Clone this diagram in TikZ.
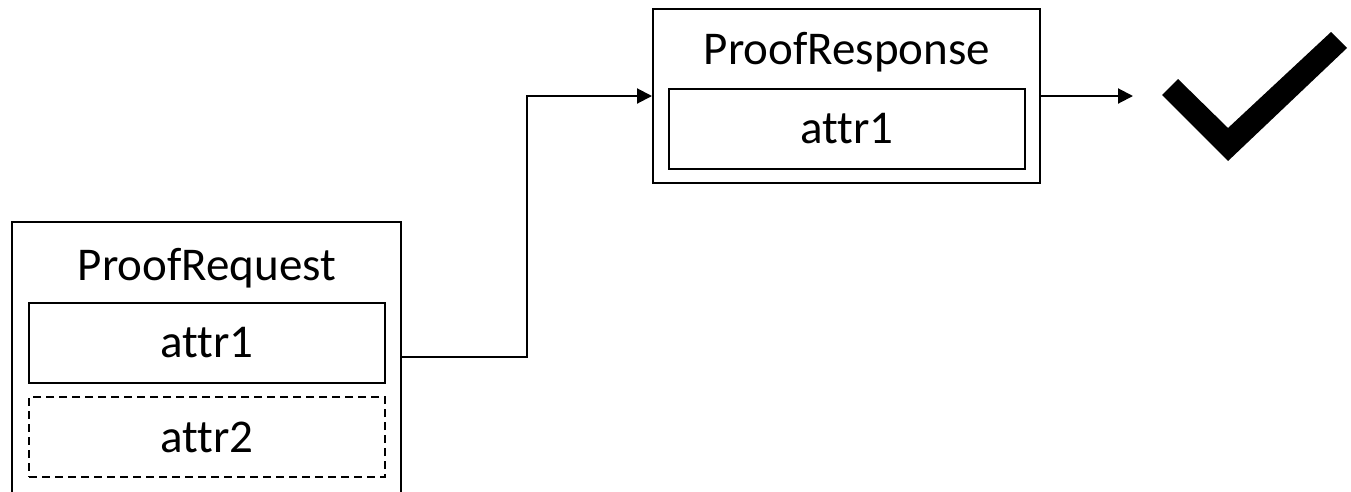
\documentclass[tikz,border=0pt]{standalone}
\usepackage{fontspec}
\setmainfont{Carlito}[RawFeature={-liga;-clig;-calt;-dlig}]
\usetikzlibrary{arrows.meta}

\tikzset{
    frame/.style={line width=2pt, inner sep=0pt, minimum width=387pt},
    attrbox/.style={draw, line width=1.5pt, inner sep=0pt, minimum width=356pt, minimum height=80pt, font=\fontsize{47}{52}\selectfont},
    optional/.style={attrbox, dash pattern=on 8pt off 5pt},
    title/.style={inner sep=0pt, font=\fontsize{47}{52}\selectfont},
    wire/.style={line width=2pt, -{Triangle[length=15pt,width=15pt]}}
}

\begin{document}
\begin{tikzpicture}[x=1pt, y=-1pt]
    \useasboundingbox (0,0) rectangle (1351,491);

    % Request frame, open at the bottom
    \node[frame, minimum height=268pt] (req) at (206.5,357) {};
    \draw[line width=2pt] (req.south west) |- (req.north east) -- (req.south east);
    \node[title] (reqtitle) at (207,268) {ProofRequest};
    \node[attrbox] (reqattr1) at (207,343) {attr1};
    \node[optional] (reqattr2) at (207,437) {attr2};

    % Response frame
    \node[frame, draw, minimum height=174pt] (resp) at (846.5,96) {};
    \node[title] (resptitle) at (847,52) {ProofResponse};
    \node[attrbox] (respattr1) at (847,129) {attr1};

    % Connectors
    \coordinate (bend) at (527,357);
    \draw[wire] (req.east) -- (bend) |- (resp.west);
    \coordinate (ok) at (1133,96);
    \draw[wire] (resp.east) -- (ok);

    % Check mark
    \fill (1178,79) -- (1228,128) -- (1331,32) -- (1347,48) -- (1228,161) -- (1162,95) -- cycle;
\end{tikzpicture}
\end{document}
